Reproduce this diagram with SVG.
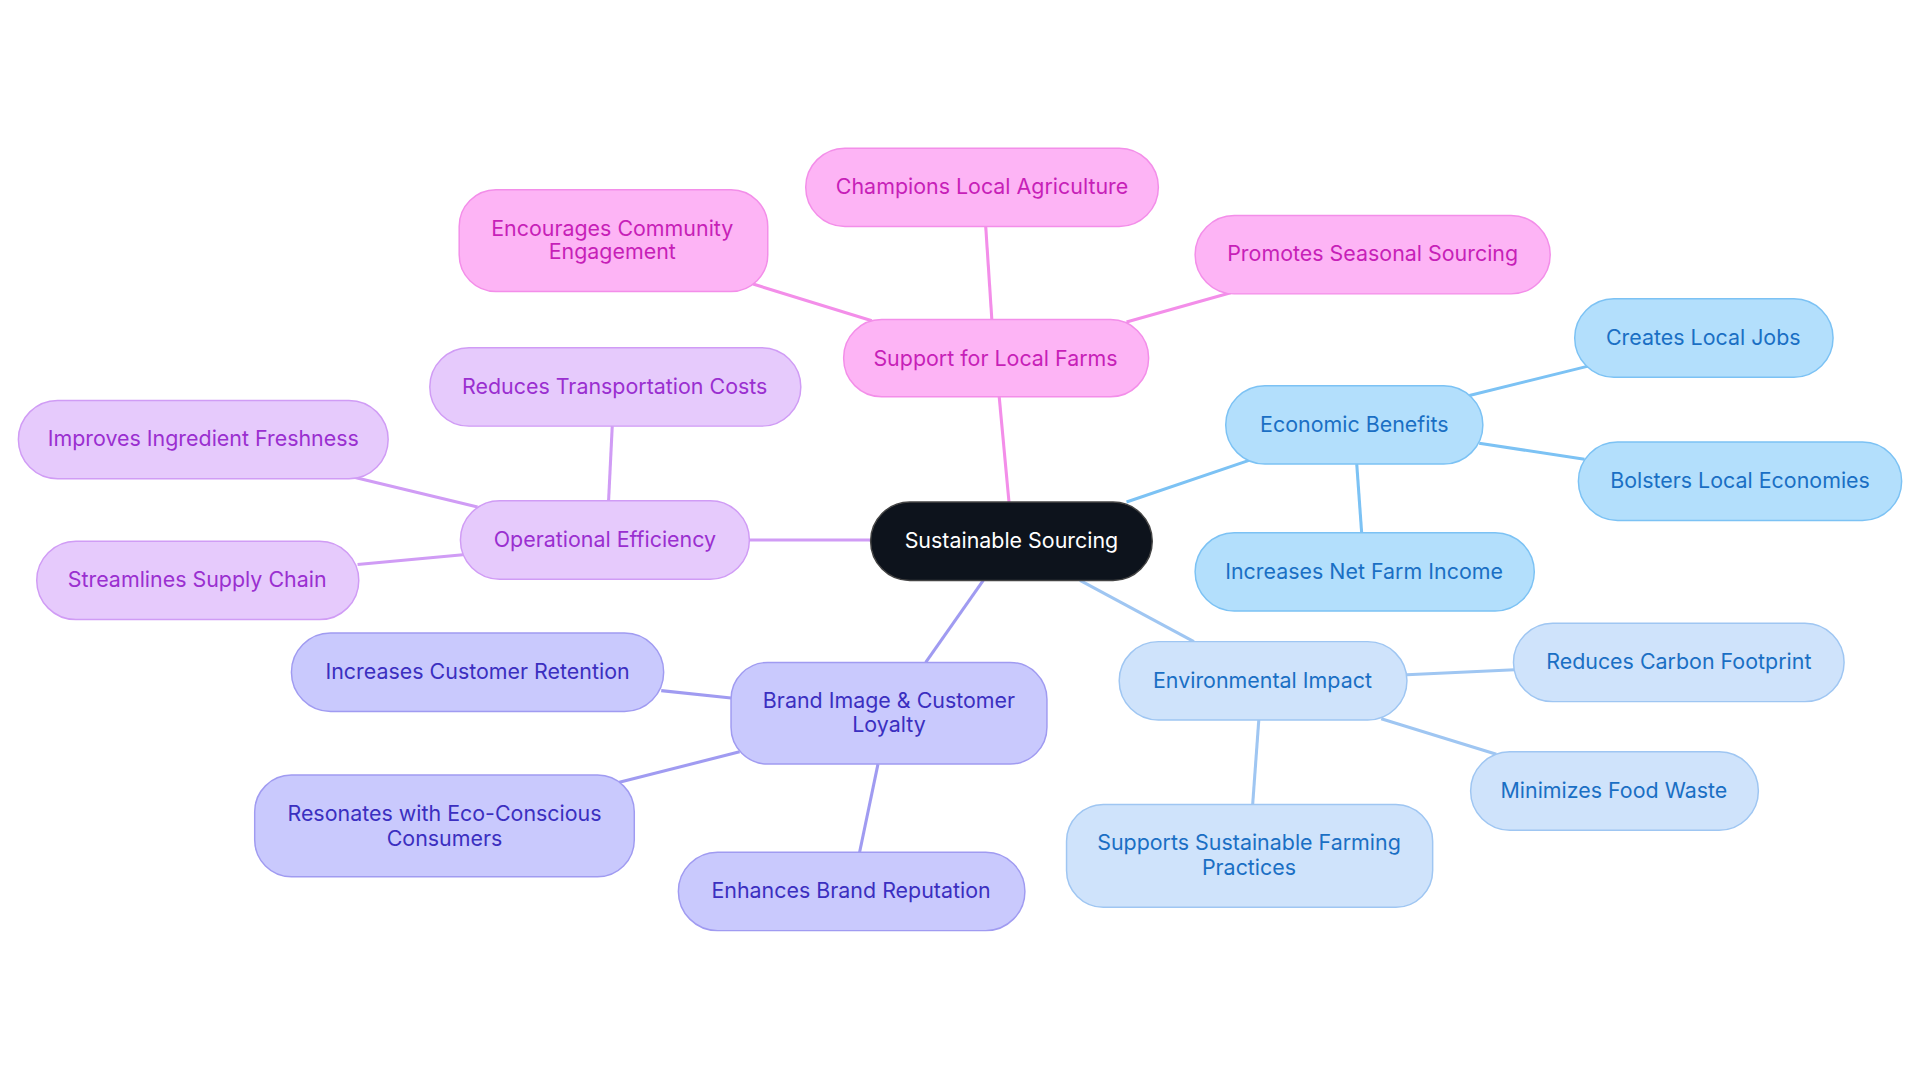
<svg xmlns="http://www.w3.org/2000/svg" width="1920" height="1083" viewBox="0 0 1920 1083">
<style>
text{font-family:Inter,"Noto Sans",sans-serif;font-size:17.5px;text-anchor:middle;dominant-baseline:central}
.p rect{fill:#fdb4f5;stroke:#f38ee9}.p text{fill:#c71fb8}
.e rect{fill:#b3dffc;stroke:#7cc2f4}.e text{fill:#1a6fc4}
.v rect{fill:#cfe3fb;stroke:#9fc6f2}.v text{fill:#1a6fc4}
.b rect{fill:#c9c9fd;stroke:#a09bf1}.b text{fill:#3b2fc0}
.o rect{fill:#e6cafc;stroke:#d09cf5}.o text{fill:#9a2fd0}
rect{stroke-width:1.2}
#edges line{stroke-width:2.5}
</style>
<rect width="1920" height="1083" fill="#fff"/>
<g transform="scale(1.2245)">
<g id="edges">
<g stroke="#f38ee9"><line x1="824" y1="410" x2="816" y2="324"/><line x1="810" y1="261" x2="805" y2="185"/><line x1="712" y1="262" x2="615" y2="232"/><line x1="920" y1="263" x2="1005" y2="239"/></g>
<g stroke="#7cc2f4"><line x1="920" y1="410" x2="1020" y2="376"/><line x1="1200" y1="323" x2="1297" y2="299"/><line x1="1208" y1="362" x2="1294" y2="375"/><line x1="1108" y1="379" x2="1112" y2="435"/></g>
<g stroke="#9fc6f2"><line x1="882" y1="474" x2="975" y2="524"/><line x1="1149" y1="551" x2="1237" y2="547"/><line x1="1128" y1="587" x2="1222" y2="616"/><line x1="1028" y1="588" x2="1023" y2="657"/></g>
<g stroke="#a09bf1"><line x1="803" y1="474" x2="756" y2="541"/><line x1="597" y1="570" x2="540" y2="564"/><line x1="604" y1="614" x2="505" y2="639"/><line x1="717" y1="624" x2="702" y2="696"/></g>
<g stroke="#d09cf5"><line x1="711" y1="441" x2="612" y2="441"/><line x1="497" y1="409" x2="500" y2="348"/><line x1="390" y1="414" x2="290" y2="390"/><line x1="378" y1="453" x2="292" y2="461"/></g>
</g>
<g id="n0"><rect x="711" y="410" width="230" height="64" rx="32" fill="#0d131c" stroke="#444"/><text x="826" y="441" fill="#fff">Sustainable Sourcing</text></g>
<g id="n1" class="p"><rect x="689" y="261" width="249" height="63" rx="31"/><text x="813" y="292">Support for Local Farms</text></g>
<g id="n2" class="p"><rect x="658" y="121" width="288" height="64" rx="32"/><text x="802" y="152">Champions Local Agriculture</text></g>
<g id="n3" class="p"><rect x="375" y="155" width="252" height="83" rx="30"/><text x="500" y="186">Encourages Community</text><text x="500" y="205">Engagement</text></g>
<g id="n4" class="p"><rect x="976" y="176" width="290" height="64" rx="32"/><text x="1121" y="207">Promotes Seasonal Sourcing</text></g>
<g id="n5" class="e"><rect x="1001" y="315" width="210" height="64" rx="32"/><text x="1106" y="346">Economic Benefits</text></g>
<g id="n6" class="e"><rect x="1286" y="244" width="211" height="64" rx="32"/><text x="1391" y="275">Creates Local Jobs</text></g>
<g id="n7" class="e"><rect x="1289" y="361" width="264" height="64" rx="32"/><text x="1421" y="392">Bolsters Local Economies</text></g>
<g id="n8" class="e"><rect x="976" y="435" width="277" height="64" rx="32"/><text x="1114" y="466">Increases Net Farm Income</text></g>
<g id="n9" class="v"><rect x="914" y="524" width="235" height="64" rx="32"/><text x="1031" y="555">Environmental Impact</text></g>
<g id="n10" class="v"><rect x="1236" y="509" width="270" height="64" rx="32"/><text x="1371" y="540">Reduces Carbon Footprint</text></g>
<g id="n11" class="v"><rect x="1201" y="614" width="235" height="64" rx="32"/><text x="1318" y="645">Minimizes Food Waste</text></g>
<g id="n12" class="v"><rect x="871" y="657" width="299" height="84" rx="30"/><text x="1020" y="688">Supports Sustainable Farming</text><text x="1020" y="708">Practices</text></g>
<g id="n13" class="b"><rect x="597" y="541" width="258" height="83" rx="30"/><text x="726" y="572">Brand Image &amp; Customer</text><text x="726" y="591">Loyalty</text></g>
<g id="n14" class="b"><rect x="238" y="517" width="304" height="64" rx="32"/><text x="390" y="548">Increases Customer Retention</text></g>
<g id="n15" class="b"><rect x="208" y="633" width="310" height="83" rx="30"/><text x="363" y="664">Resonates with Eco-Conscious</text><text x="363" y="684">Consumers</text></g>
<g id="n16" class="b"><rect x="554" y="696" width="283" height="64" rx="32"/><text x="695" y="727">Enhances Brand Reputation</text></g>
<g id="n17" class="o"><rect x="376" y="409" width="236" height="64" rx="32"/><text x="494" y="440">Operational Efficiency</text></g>
<g id="n18" class="o"><rect x="351" y="284" width="303" height="64" rx="32"/><text x="502" y="315">Reduces Transportation Costs</text></g>
<g id="n19" class="o"><rect x="15" y="327" width="302" height="64" rx="32"/><text x="166" y="358">Improves Ingredient Freshness</text></g>
<g id="n20" class="o"><rect x="30" y="442" width="263" height="64" rx="32"/><text x="161" y="473">Streamlines Supply Chain</text></g>
</g>
</svg>
